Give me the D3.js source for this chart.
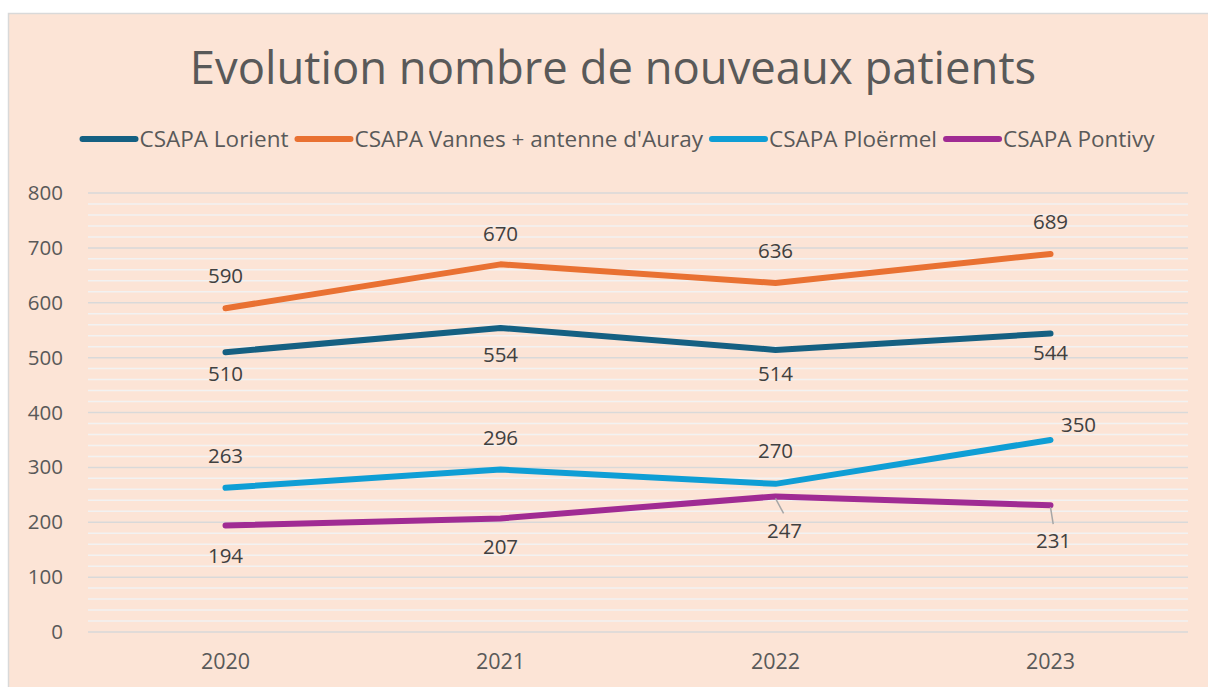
<!DOCTYPE html>
<html><head><meta charset="utf-8">
<script src="https://cdn.jsdelivr.net/npm/d3@7"></script>
<style>
html,body{margin:0;padding:0;background:#fff;}
svg{display:block;}
</style></head>
<body>
<script>
const years = ["2020","2021","2022","2023"];
const seriesNames = ["CSAPA Lorient","CSAPA Vannes + antenne d'Auray","CSAPA Ploërmel","CSAPA Pontivy"];
const lorient = [510,554,514,544];
const vannes = [590,670,636,689];
const ploermel = [263,296,270,350];
const pontivy = [194,207,247,231];
const yTicks = [0,100,200,300,400,500,600,700,800];
const title = "Evolution nombre de nouveaux patients";

const colors = ["#156082","#E97132","#0F9ED5","#A02B93"];
// label offsets (dx, dy) per series per point
const labelOffsets = [
  [[0,22],[0,27],[0,24],[0,19]],
  [[0,-32],[0,-31],[0,-32],[0,-32]],
  [[0,-32],[0,-32],[0,-33],[28,-15]],
  [[0,30],[0,28],[9,34],[3,36]]
];
const leaders = {"3-2":true,"3-3":true};

const W=1208,H=687;
const font = "'Open Sans', 'Liberation Sans', sans-serif";
const txt = "#595959";
const svg = d3.select("body").append("svg").attr("width",W).attr("height",H);
svg.append("rect").attr("x",8.5).attr("y",13.5).attr("width",W).attr("height",H)
  .attr("fill","#FCE4D6").attr("stroke","#D9D9D9").attr("stroke-width",1.5);

const x = d3.scaleBand().domain(years).range([88,1188]);
const y = d3.scaleLinear().domain([0,800]).range([632,193]);

// minor grid
const minor = d3.range(0,801,20).filter(v=>v%100!==0);
svg.append("g").selectAll("line").data(minor).join("line")
  .attr("x1",88).attr("x2",1188).attr("y1",d=>y(d)).attr("y2",d=>y(d))
  .attr("stroke","#F2F2F2").attr("stroke-width",1.5);
// major grid
svg.append("g").selectAll("line").data(yTicks).join("line")
  .attr("x1",88).attr("x2",1188).attr("y1",d=>y(d)).attr("y2",d=>y(d))
  .attr("stroke","#D9D9D9").attr("stroke-width",1.5);

// y axis labels
const yAxis = d3.axisLeft(y).tickValues(yTicks).tickSize(0).tickPadding(0);
const ga = svg.append("g").attr("transform","translate(63,0)").call(yAxis);
ga.select(".domain").remove();
ga.selectAll("text").attr("fill",txt).style("font-family",font).style("font-size","20.5px");

// x axis labels
const xAxis = d3.axisBottom(x).tickSize(0).tickPadding(0);
const gx = svg.append("g").attr("transform","translate(0,654)").call(xAxis);
gx.select(".domain").remove();
gx.selectAll("text").attr("fill",txt).style("font-family",font).style("font-size","21.5px").attr("dy","0.71em");

// title
svg.append("text").attr("x",613).attr("y",84).attr("text-anchor","middle")
  .attr("fill",txt).style("font-family",font).style("font-size","45.4px").text(title);

const allSeries = [lorient,vannes,ploermel,pontivy];
const line = d3.line().x((d,i)=>x(years[i])+x.bandwidth()/2).y(d=>y(d));
allSeries.forEach((s,si)=>{
  svg.append("path").datum(s).attr("d",line).attr("fill","none")
    .attr("stroke",colors[si]).attr("stroke-width",6)
    .attr("stroke-linecap","round").attr("stroke-linejoin","round");
});
// labels
allSeries.forEach((s,si)=>{
  s.forEach((v,i)=>{
    const px = x(years[i])+x.bandwidth()/2, py = y(v);
    const [dx,dy] = labelOffsets[si][i];
    if(leaders[si+"-"+i]){
      svg.append("line").attr("x1",px).attr("y1",py+2).attr("x2",px+dx*0.9).attr("y2",py+dy-17)
        .attr("stroke","#A6A6A6").attr("stroke-width",1.5);
    }
    svg.append("text").attr("x",px+dx).attr("y",py+dy).attr("dy","0.35em")
      .attr("text-anchor","middle").attr("fill","#404040")
      .style("font-family",font).style("font-size","20.5px").text(v);
  });
});

// legend
const lg = svg.append("g");
let cx = 0;
seriesNames.forEach((n,i)=>{
  const g = lg.append("g");
  g.append("line").attr("x1",3).attr("x2",56).attr("y1",0).attr("y2",0)
    .attr("stroke",colors[i]).attr("stroke-width",6).attr("stroke-linecap","round");
  const t = g.append("text").attr("x",60).attr("dy","0.35em").attr("fill",txt)
    .style("font-family",font).style("font-size","22.5px").text(n);
  const w = 60 + t.node().getComputedTextLength();
  g.attr("transform",`translate(${cx},0)`);
  cx += w + 6;
});
const total = cx - 6;
lg.attr("transform",`translate(${617-total/2},139)`);
</script>
</body></html>
